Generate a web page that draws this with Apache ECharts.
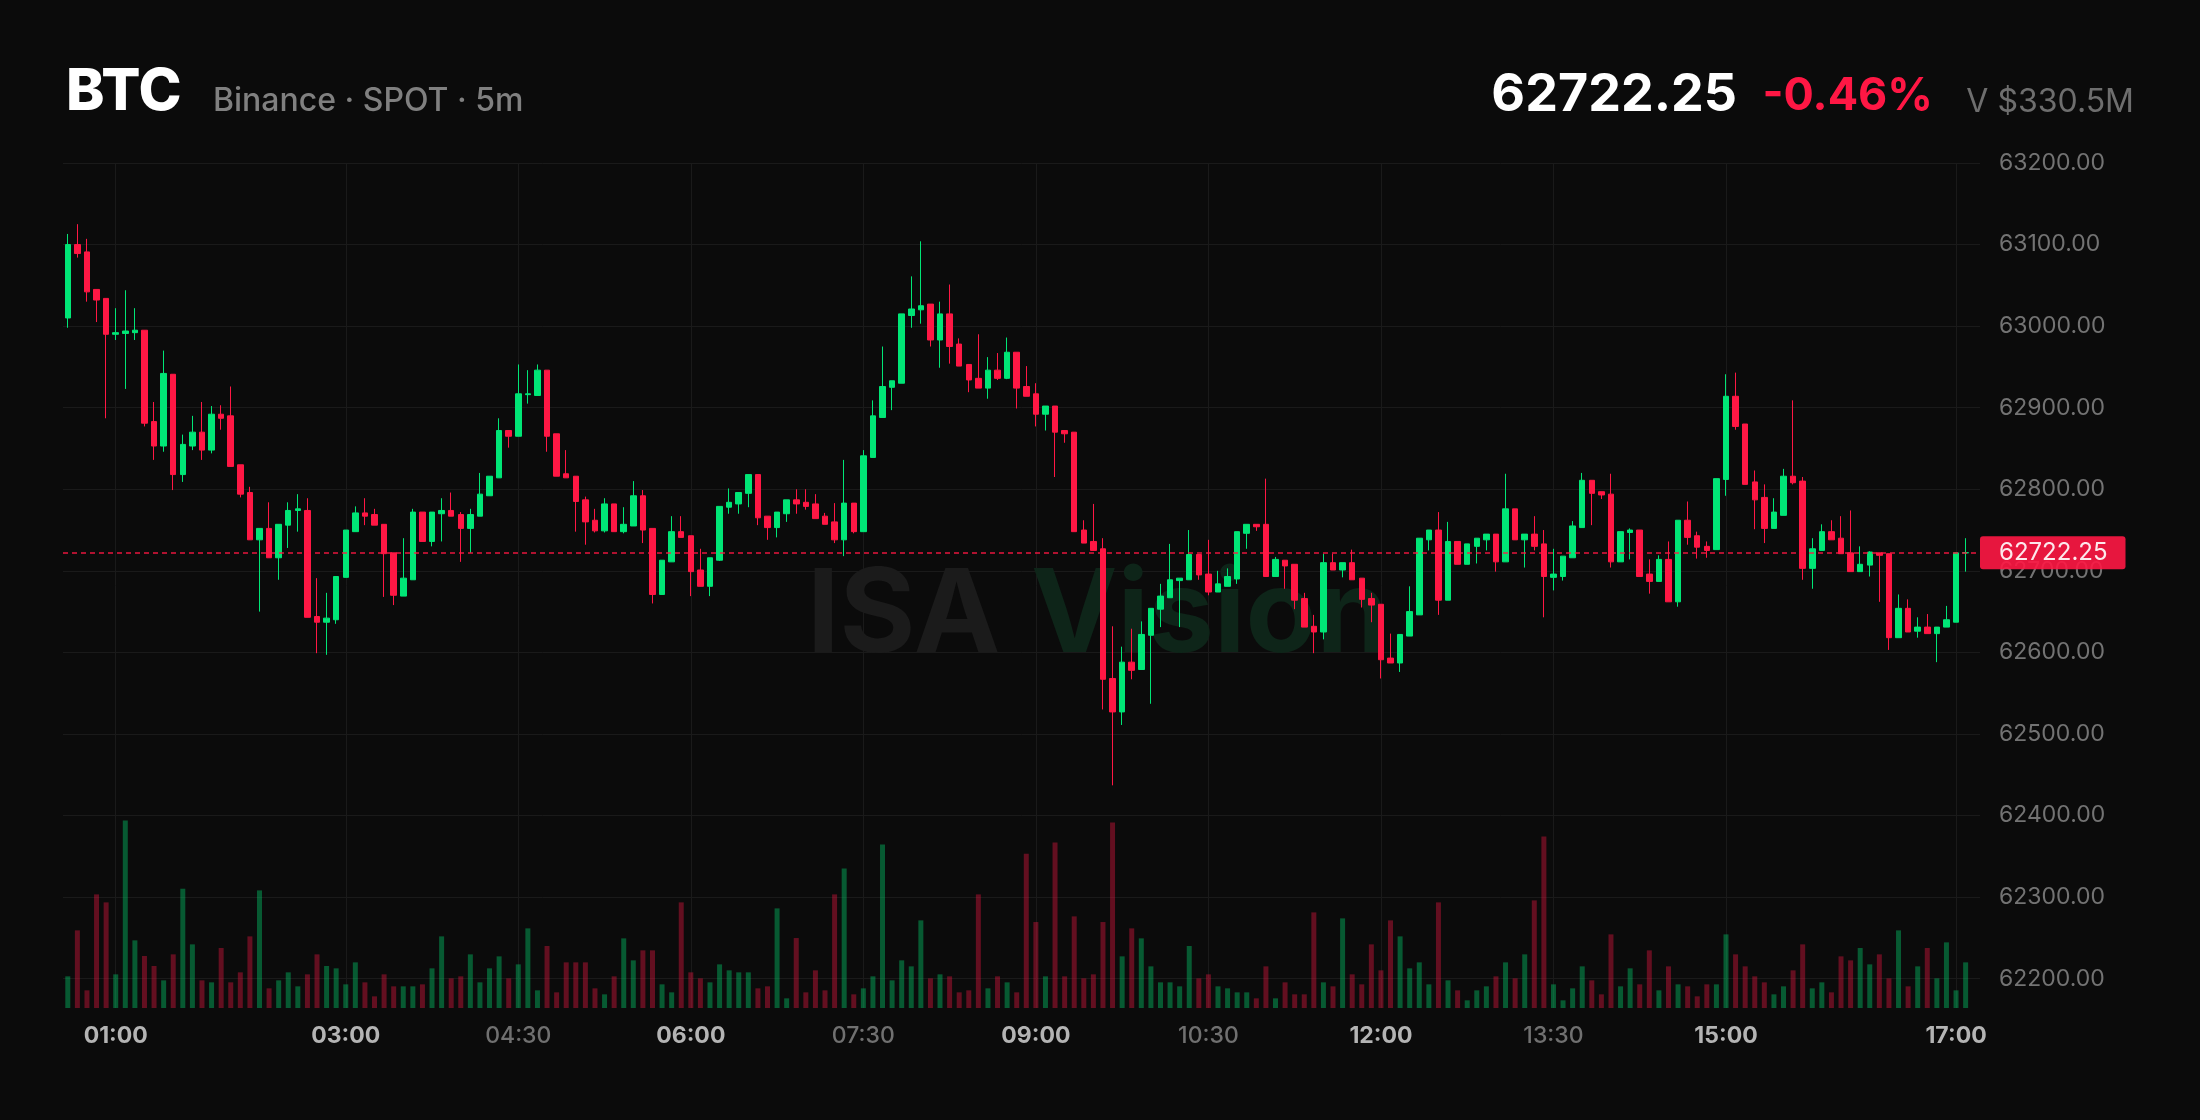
<!DOCTYPE html>
<html><head><meta charset="utf-8">
<script src="https://cdn.jsdelivr.net/npm/echarts@6/dist/echarts.min.js"></script>
<style>html,body{margin:0;padding:0;background:#0b0b0b;}#c{width:2200px;height:1120px;}</style>
</head><body><div id="c"></div>
<script>
// ---- header texts ----
const symbolName = 'BTC';
const subtitle = 'Binance · SPOT · 5m';
const lastPrice = 62722.25;
const changeText = '-0.46%';
const volumeText = 'V $330.5M';
const watermarkA = 'ISA';
const watermarkB = 'Vision';

// ---- time slots (5m candles from 00:35, one empty slot at the end) ----
const startHour = 0, startMinute = 35, stepMinutes = 5, slotCount = 200;
const categories = [];
for (let k = 0; k < slotCount; k++) {
  const t = startHour * 60 + startMinute + k * stepMinutes;
  categories.push(String(Math.floor(t / 60)).padStart(2, '0') + ':' + String(t % 60).padStart(2, '0'));
}
const timeTicks = ['01:00','03:00','04:30','06:00','07:30','09:00','10:30','12:00','13:30','15:00','17:00'];
const majorTicks = ['01:00','03:00','06:00','09:00','12:00','15:00','17:00'];

// ---- OHLC ----
const opens = [63010,63100,63091,63045,63034,62990,62991,62992,62995,62883,62853,62941,62818,62853,62870,62848,62892,62890,62830,62796,
62738,62752,62716,62756,62774,62774,62644,62637,62640,62692,62748,62771,62769,62757,62722,62669,62689,62772,62736,62770,
62774,62769,62752,62767,62792,62814,62872,62865,62916,62915,62946,62868,62819,62816,62787,62762,62749,62782,62748,62755,
62792,62752,62671,62711,62748,62743,62701,62681,62713,62778,62782,62795,62818,62767,62753,62770,62787,62784,62782,62767,
62760,62738,62783,62748,62839,62888,62925,62930,63013,63020,63027,62983,63015,62978,62953,62936,62924,62946,62936,62968,
62926,62917,62892,62902,62872,62870,62750,62736,62727,62568,62527,62588,62579,62621,62653,62667,62688,62689,62720,62696,
62674,62681,62690,62746,62757,62757,62693,62713,62708,62666,62632,62625,62710,62701,62710,62691,62666,62659,62593,62587,
62620,62646,62738,62750,62664,62736,62708,62730,62738,62745,62711,62776,62738,62745,62733,62692,62693,62716,62753,62811,
62797,62794,62711,62747,62750,62696,62687,62714,62662,62762,62743,62730,62726,62812,62914,62880,62809,62790,62752,62768,
62816,62810,62703,62725,62748,62740,62722,62699,62707,62722,62721,62618,62654,62626,62631,62623,62631,62637,62722];
const highs = [63113,63125,63107,63045,63034,63022,63044,63022,62995,62907,62970,62941,62867,62890,62907,62902,62903,62926,62830,62803,
62752,62784,62757,62784,62794,62789,62691,62673,62693,62750,62779,62789,62776,62757,62722,62740,62776,62772,62772,62789,
62796,62772,62776,62820,62816,62887,62872,62953,62946,62953,62946,62868,62848,62816,62791,62776,62789,62782,62778,62810,
62799,62752,62713,62767,62767,62743,62727,62716,62779,62801,62796,62818,62818,62767,62772,62787,62800,62800,62794,62771,
62783,62836,62783,62848,62909,62975,62933,63015,63061,63104,63027,63030,63051,62985,62953,62990,62962,62967,62986,62968,
62951,62930,62902,62902,62872,62870,62762,62782,62740,62632,62607,62629,62638,62654,62684,62733,62691,62750,62720,62738,
62700,62703,62748,62757,62757,62813,62717,62713,62708,62673,62646,62721,62721,62710,62726,62691,62673,62659,62623,62622,
62681,62740,62750,62772,62760,62736,62733,62740,62745,62745,62819,62776,62745,62767,62750,62727,62718,62761,62820,62811,
62797,62819,62748,62752,62750,62714,62719,62736,62762,62785,62748,62736,62813,62941,62943,62880,62823,62806,62789,62825,
62909,62815,62740,62757,62762,62767,62774,62730,62724,62722,62721,62671,62665,62643,62647,62631,62657,62722,62740];
const lows = [62998,63084,63030,63005,62887,62983,62923,62983,62877,62836,62846,62799,62809,62848,62836,62844,62873,62828,62790,62738,
62650,62716,62689,62728,62748,62643,62599,62597,62635,62692,62748,62756,62756,62668,62658,62669,62689,62736,62730,62736,
62767,62711,62722,62767,62792,62814,62851,62865,62905,62915,62846,62816,62814,62748,62732,62747,62747,62748,62746,62755,
62734,62660,62671,62711,62741,62669,62681,62669,62712,62770,62770,62778,62756,62738,62741,62760,62770,62775,62764,62757,
62734,62718,62746,62748,62839,62888,62897,62930,62998,63003,62975,62949,62954,62951,62919,62924,62911,62934,62935,62899,
62914,62877,62872,62815,62857,62748,62734,62725,62530,62437,62511,62567,62579,62537,62631,62667,62631,62689,62689,62670,
62674,62681,62684,62727,62749,62693,62693,62678,62653,62631,62599,62616,62701,62692,62689,62655,62637,62568,62587,62576,
62620,62646,62725,62646,62664,62708,62708,62709,62725,62699,62711,62738,62704,62725,62643,62676,62688,62716,62753,62756,
62788,62704,62711,62714,62693,62672,62687,62662,62656,62732,62715,62716,62726,62792,62873,62806,62751,62734,62752,62768,
62806,62689,62678,62725,62738,62721,62699,62699,62693,62662,62603,62618,62625,62618,62623,62588,62631,62637,62699];
const closes = [63100,63089,63042,63032,62990,62992,62994,62995,62881,62853,62942,62818,62855,62870,62848,62892,62887,62828,62794,62738,
62752,62716,62757,62774,62776,62643,62637,62642,62693,62750,62771,62767,62756,62721,62670,62691,62772,62736,62772,62774,
62767,62752,62769,62794,62816,62872,62865,62917,62917,62946,62865,62816,62814,62785,62760,62749,62782,62748,62757,62792,
62750,62671,62713,62748,62741,62699,62681,62716,62779,62784,62796,62818,62765,62753,62772,62787,62782,62779,62764,62757,
62738,62783,62748,62841,62890,62926,62933,63015,63021,63025,62983,63015,62975,62951,62934,62924,62946,62936,62968,62924,
62914,62892,62902,62870,62868,62748,62734,62725,62567,62527,62588,62578,62622,62654,62669,62689,62691,62720,62695,62674,
62684,62693,62748,62757,62754,62693,62714,62706,62664,62631,62625,62710,62701,62710,62689,62665,62658,62591,62587,62622,
62650,62740,62750,62664,62736,62708,62733,62740,62745,62711,62776,62738,62745,62730,62693,62696,62718,62755,62811,62795,
62793,62711,62748,62750,62693,62687,62714,62662,62762,62741,62729,62725,62813,62914,62877,62806,62787,62752,62772,62816,
62808,62703,62727,62748,62738,62721,62699,62708,62723,62719,62618,62654,62625,62631,62623,62631,62640,62722,62722.25];

// ---- volume (relative units) ----
const volumes = [95,233,53,341,317,101,563,203,156,126,83,161,358,191,83,77,180,77,107,215,
353,59,83,107,65,101,161,126,119,71,137,77,35,101,65,65,65,71,119,215,
89,95,161,77,119,155,89,131,239,53,186,47,137,137,137,59,41,95,209,143,
173,173,71,47,317,107,89,77,131,113,107,107,59,65,299,29,210,47,113,53,
341,419,41,59,95,491,83,143,125,263,89,101,95,47,53,341,59,95,77,47,
463,258,95,497,95,275,89,101,258,557,155,239,209,125,77,77,65,186,89,101,
65,59,47,47,29,125,29,77,41,41,287,77,65,269,101,71,191,113,263,215,
119,137,71,317,83,53,23,53,65,95,137,89,161,323,515,71,23,59,125,83,
41,221,65,119,71,173,53,125,71,65,35,71,71,221,161,125,95,77,41,65,
113,191,59,77,47,155,143,180,131,161,89,233,65,125,180,89,197,53,137];

// ---- axis ranges ----
const priceMin = 62164, priceMax = 63200, volumeMax = 2536;

const UP = '#00e676', DOWN = '#ff1744';
const UP_VOL = 'rgba(0,230,118,0.36)', DOWN_VOL = 'rgba(255,23,68,0.36)';
const FONT = 'Inter, "Noto Sans", sans-serif';

const candleData = opens.map((o, i) => [o, closes[i], lows[i], highs[i]]);
const volData = volumes.map((v, i) => ({
  value: v,
  itemStyle: { color: closes[i] >= opens[i] ? UP_VOL : DOWN_VOL }
}));
const isTick = (idx, val) => timeTicks.indexOf(val) >= 0;

const chart = echarts.init(document.getElementById('c'), null, { renderer: 'canvas' });
chart.setOption({
  backgroundColor: '#0b0b0b',
  animation: false,
  textStyle: { fontFamily: FONT },
  grid: { left: 63, right: 220, top: 163, bottom: 112, containLabel: false },
  graphic: [
    { type: 'text', x: 66, y: 93, z: 10, style: { text: symbolName, fill: '#ffffff', font: '800 58px ' + FONT, textAlign: 'left', textVerticalAlign: 'middle' } },
    { type: 'text', x: 213, y: 101, z: 10, style: { text: subtitle, fill: '#808080', font: '500 32px ' + FONT, textAlign: 'left', textVerticalAlign: 'middle' } },
    { type: 'text', x: 1737, y: 95, z: 10, style: { text: lastPrice.toFixed(2), fill: '#ffffff', font: 'bold 52px ' + FONT, textAlign: 'right', textVerticalAlign: 'middle' } },
    { type: 'text', x: 1933, y: 96, z: 10, style: { text: changeText, fill: DOWN, font: 'bold 45px ' + FONT, textAlign: 'right', textVerticalAlign: 'middle' } },
    { type: 'text', x: 2134, y: 102, z: 10, style: { text: volumeText, fill: '#6e6e6e', font: '400 32px ' + FONT, textAlign: 'right', textVerticalAlign: 'middle' } },
    { type: 'text', x: 807, y: 617, z: 1, silent: true, style: { text: watermarkA, fill: '#1b1b1b', font: 'bold 116px ' + FONT, textAlign: 'left', textVerticalAlign: 'middle' } },
    { type: 'text', x: 1031, y: 617, z: 1, silent: true, style: { text: watermarkB, fill: '#0e2519', font: 'bold 116px ' + FONT, textAlign: 'left', textVerticalAlign: 'middle' } }
  ],
  xAxis: {
    type: 'category',
    data: categories,
    boundaryGap: true,
    axisLine: { show: false },
    axisTick: { show: false },
    axisLabel: {
      interval: isTick,
      margin: 17,
      formatter: (val) => majorTicks.indexOf(val) >= 0 ? '{b|' + val + '}' : '{n|' + val + '}',
      rich: {
        b: { color: '#b4b4b4', fontWeight: 700, fontSize: 23, fontFamily: FONT },
        n: { color: '#707070', fontWeight: 500, fontSize: 23, fontFamily: FONT }
      }
    },
    splitLine: { show: true, interval: isTick, alignWithLabel: true, lineStyle: { color: '#1a1a1a', width: 1 } }
  },
  yAxis: [
    {
      type: 'value',
      position: 'right',
      scale: true,
      min: priceMin,
      max: priceMax,
      splitNumber: 10,
      minInterval: 100,
      maxInterval: 100,
      axisLine: { show: false },
      axisTick: { show: false },
      axisLabel: {
        color: '#737373', fontSize: 23, fontFamily: FONT, margin: 19, align: 'left',
        showMinLabel: false,
        formatter: (v) => v.toFixed(2)
      },
      splitLine: { show: true, showMinLine: false, lineStyle: { color: '#1a1a1a', width: 1 } }
    },
    {
      type: 'value',
      min: 0,
      max: volumeMax,
      show: false,
      splitLine: { show: false }
    }
  ],
  series: [
    {
      type: 'bar',
      name: 'Volume',
      yAxisIndex: 1,
      data: volData,
      barWidth: 5,
      z: 2
    },
    {
      type: 'candlestick',
      name: 'BTC',
      data: candleData,
      barWidth: 6,
      z: 3,
      itemStyle: { color: UP, color0: DOWN, borderColor: UP, borderColor0: DOWN, borderWidth: 1 },
      markLine: {
        silent: true,
        symbol: ['none', 'none'],
        animation: false,
        lineStyle: { color: DOWN, type: [5, 4], width: 1.5, opacity: 0.9 },
        label: {
          show: true,
          position: 'end',
          distance: 0,
          formatter: () => lastPrice.toFixed(2),
          color: '#ffffff',
          backgroundColor: DOWN,
          borderRadius: 3,
          padding: [5, 18, 4, 19],
          fontSize: 24,
          fontFamily: FONT
        },
        data: [{ yAxis: lastPrice }]
      }
    }
  ]
});
</script>
</body></html>
